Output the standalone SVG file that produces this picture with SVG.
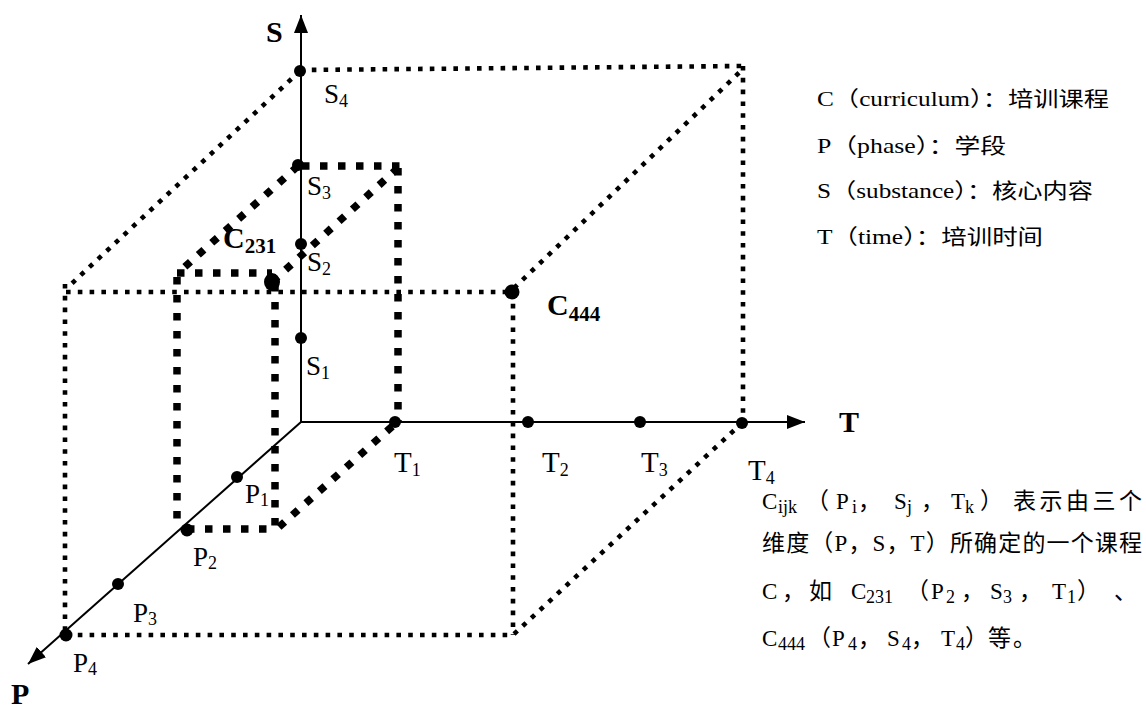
<svg xmlns="http://www.w3.org/2000/svg" width="1146" height="708" viewBox="0 0 1146 708">
<style>
.axis{stroke:#000;stroke-width:2;fill:none}
.thin{stroke:#000;stroke-width:4.6;stroke-dasharray:4.6 7.2;fill:none}
.thick{stroke:#000;stroke-width:7.5;stroke-dasharray:7.5 10.5;fill:none}
.dot{fill:#000}
text{font-family:"Liberation Serif","Noto Sans CJK SC",serif;fill:#000}
.lbl{font-size:27px}
.lblT{font-size:29px}
.sub{font-size:18px}
.ax{font-size:30px;font-weight:bold}
.cb{font-size:30px;font-weight:bold}
.cbs{font-size:21px;font-weight:bold}
.leg{font-size:21px}
.par{font-size:23px}
.ps{font-size:18px}
</style>
<defs>
<marker id="arr" markerUnits="userSpaceOnUse" viewBox="0 0 18 14" refX="18" refY="7" markerWidth="18" markerHeight="14" orient="auto">
<path d="M0,0 L18,7 L0,14 z" fill="#000"/>
</marker>
</defs>
<rect width="1146" height="708" fill="#fff"/>

<g id="connectors">
<g id="outer-box">
<line class="thin" x1="300" y1="70" x2="744" y2="66"/>
<line class="thin" x1="743" y1="66" x2="743" y2="422"/>
<line class="thin" x1="300" y1="71" x2="68" y2="287"/>
<line class="thin" x1="66" y1="292" x2="512" y2="292"/>
<line class="thin" x1="65" y1="284" x2="65" y2="634"/>
<line class="thin" x1="66" y1="635" x2="512" y2="635"/>
<line class="thin" x1="513" y1="292" x2="513" y2="635"/>
<line class="thin" x1="514" y1="288" x2="744" y2="68"/>
<line class="thin" x1="514" y1="634" x2="742" y2="423"/>
</g>
<g id="inner-box">
<line class="thick" x1="302" y1="166" x2="400" y2="166"/>
<line class="thick" x1="398" y1="168" x2="398" y2="422"/>
<line class="thick" x1="298" y1="166" x2="179" y2="272"/>
<line class="thick" x1="398" y1="168" x2="272" y2="282"/>
<line class="thick" x1="177" y1="273" x2="272" y2="273"/>
<line class="thick" x1="177" y1="277" x2="177" y2="529"/>
<line class="thick" x1="275" y1="284" x2="275" y2="529"/>
<line class="thick" x1="187" y1="529" x2="277" y2="529"/>
<line class="thick" x1="279" y1="527" x2="396" y2="423"/>
</g>
<g id="axes">
<line class="axis" x1="301" y1="422" x2="301" y2="15" marker-end="url(#arr)"/>
<line class="axis" x1="301" y1="422" x2="805" y2="422" marker-end="url(#arr)"/>
<line class="axis" x1="301" y1="422" x2="28" y2="664" marker-end="url(#arr)"/>
</g>
</g>

<g id="axis-S"><text class="ax" x="266" y="42">S</text></g>
<g id="axis-T"><text class="ax" x="839" y="432">T</text></g>
<g id="axis-P"><text class="ax" x="11" y="704">P</text></g>

<g id="S4"><circle class="dot" cx="300" cy="71" r="6"/><text class="lbl" x="324" y="103">S<tspan class="sub" dy="4">4</tspan></text></g>
<g id="S3"><circle class="dot" cx="298" cy="165" r="6"/><text class="lbl" x="307" y="195">S<tspan class="sub" dy="4">3</tspan></text></g>
<g id="S2"><circle class="dot" cx="301" cy="244" r="6"/><text class="lbl" x="307" y="271">S<tspan class="sub" dy="4">2</tspan></text></g>
<g id="S1"><circle class="dot" cx="301" cy="338" r="6"/><text class="lbl" x="306" y="375">S<tspan class="sub" dy="4">1</tspan></text></g>

<g id="T1"><circle class="dot" cx="395" cy="422" r="6"/><text class="lblT" x="394" y="472">T<tspan class="sub" dy="4">1</tspan></text></g>
<g id="T2"><circle class="dot" cx="528" cy="422" r="6"/><text class="lblT" x="542" y="472">T<tspan class="sub" dy="4">2</tspan></text></g>
<g id="T3"><circle class="dot" cx="640" cy="422" r="6"/><text class="lblT" x="641" y="472">T<tspan class="sub" dy="4">3</tspan></text></g>
<g id="T4"><circle class="dot" cx="742" cy="423" r="6"/><text class="lblT" x="748" y="480">T<tspan class="sub" dy="4">4</tspan></text></g>

<g id="P1"><circle class="dot" cx="237" cy="477" r="6"/><text class="lbl" x="245" y="503">P<tspan class="sub" dy="3">1</tspan></text></g>
<g id="P2"><circle class="dot" cx="187" cy="530" r="6.5"/><text class="lbl" x="193" y="566">P<tspan class="sub" dy="3">2</tspan></text></g>
<g id="P3"><circle class="dot" cx="118" cy="584" r="6"/><text class="lbl" x="133" y="622">P<tspan class="sub" dy="3">3</tspan></text></g>
<g id="P4"><circle class="dot" cx="66" cy="635" r="6.5"/><text class="lbl" x="73" y="672">P<tspan class="sub" dy="3">4</tspan></text></g>

<g id="C231"><ellipse class="dot" cx="272" cy="282" rx="8" ry="9"/><text class="cb" x="223" y="248">C<tspan class="cbs" dy="5">231</tspan></text></g>
<g id="C444"><circle class="dot" cx="512" cy="292" r="7.5"/><text class="cb" x="547" y="315">C<tspan class="cbs" dy="6">444</tspan></text></g>

<g id="legend">
<text class="leg" x="817" y="106" textLength="292" lengthAdjust="spacingAndGlyphs">C（curriculum）：培训课程</text>
<text class="leg" x="817" y="153" textLength="189" lengthAdjust="spacingAndGlyphs">P（phase）：学段</text>
<text class="leg" x="817" y="198" textLength="276" lengthAdjust="spacingAndGlyphs">S（substance）：核心内容</text>
<text class="leg" x="817" y="244" textLength="226" lengthAdjust="spacingAndGlyphs">T（time）：培训时间</text>
</g>

<g id="description">
<text class="par" y="509"><tspan x="762">C</tspan><tspan class="ps" x="778" dy="4">ijk</tspan><tspan x="806" dy="-4">（</tspan><tspan x="836">P</tspan><tspan class="ps" x="852" dy="4">i</tspan><tspan x="858" dy="-4">，</tspan><tspan x="894">S</tspan><tspan class="ps" x="907" dy="4">j</tspan><tspan x="921" dy="-4">，</tspan><tspan x="951">T</tspan><tspan class="ps" x="965" dy="4">k</tspan><tspan x="980" dy="-4">）</tspan></text>
<text class="par" x="1013" y="509" textLength="129" lengthAdjust="spacing">表示由三个</text>
<text class="par" x="762" y="551" textLength="380" lengthAdjust="spacing">维度（P，S，T）所确定的一个课程</text>
<text class="par" y="599"><tspan x="762">C</tspan><tspan x="782">，</tspan><tspan x="809">如</tspan><tspan x="851">C</tspan><tspan class="ps" x="866" dy="4">231</tspan><tspan x="906" dy="-4">（</tspan><tspan x="931">P</tspan><tspan class="ps" x="946" dy="4">2</tspan><tspan x="961" dy="-4">，</tspan><tspan x="990">S</tspan><tspan class="ps" x="1003" dy="4">3</tspan><tspan x="1019" dy="-4">，</tspan><tspan x="1052">T</tspan><tspan class="ps" x="1067" dy="4">1</tspan><tspan x="1077" dy="-4">）</tspan><tspan x="1114">、</tspan></text>
<text class="par" y="646"><tspan x="762">C</tspan><tspan class="ps" x="778" dy="4">444</tspan><tspan x="808" dy="-4">（</tspan><tspan x="832">P</tspan><tspan class="ps" x="848" dy="4">4</tspan><tspan x="858" dy="-4">，</tspan><tspan x="887">S</tspan><tspan class="ps" x="902" dy="4">4</tspan><tspan x="911" dy="-4">，</tspan><tspan x="941">T</tspan><tspan class="ps" x="956" dy="4">4</tspan><tspan x="965" dy="-4">）</tspan><tspan x="988">等</tspan><tspan x="1013">。</tspan></text>
</g>
</svg>
